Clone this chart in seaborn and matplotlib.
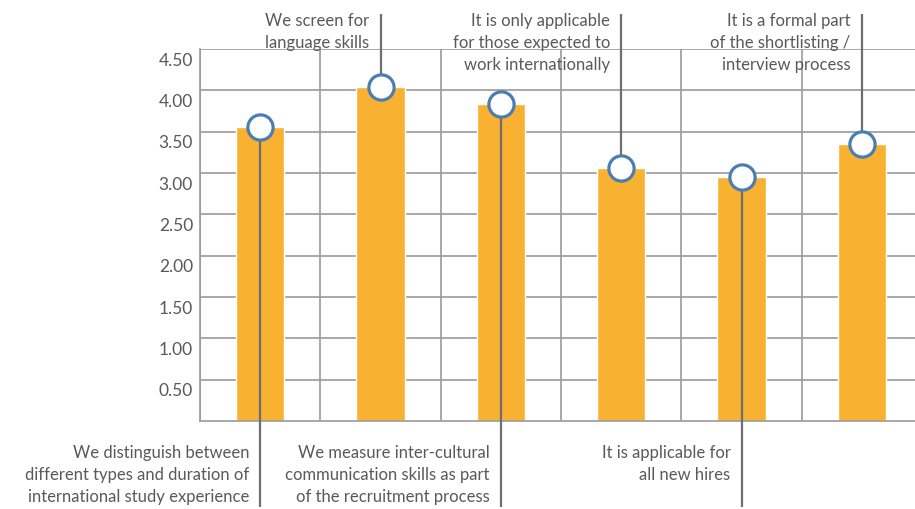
import matplotlib
matplotlib.use("Agg")
import matplotlib.pyplot as plt
import matplotlib.transforms as mtransforms
import numpy as np
import pandas as pd
import seaborn as sns

# Average agreement score per recruitment practice
statements = [
    "We distinguish between\ndifferent types and duration of\ninternational study experience",
    "We screen for\nlanguage skills",
    "We measure inter-cultural\ncommunication skills as part\nof the recruitment process",
    "It is only applicable\nfor those expected to\nwork internationally",
    "It is applicable for\nall new hires",
    "It is a formal part\nof the shortlisting /\ninterview process",
]
scores = [3.56, 4.04, 3.83, 3.06, 2.95, 3.35]
label_side = ["below", "above", "below", "above", "below", "above"]
y_ticks = [0.5, 1.0, 1.5, 2.0, 2.5, 3.0, 3.5, 4.0, 4.5]

BAR = "#F9B132"
RING = "#4A7EB2"
TEXT = "#595959"
GRID = "#9a9a9a"
LEADER = "#6e6e6e"

sns.set_theme(style="white")
plt.rcParams["font.family"] = ["Lato", "DejaVu Sans"]

df = pd.DataFrame({"statement": statements, "score": scores})

W, H, DPI = 915, 510, 100
fig = plt.figure(figsize=(W / DPI, H / DPI), dpi=DPI)
x0, x1, y_top, y_bot = 200, 922, 50, 422
ax = fig.add_axes([x0 / W, (H - y_bot) / H, (x1 - x0) / W, (y_bot - y_top) / H])

sns.barplot(data=df, x="statement", y="score", color=BAR, width=0.4,
            saturation=1, ax=ax, zorder=2)

n = len(statements)
ax.set_xlim(-0.5, n - 0.5)
ax.set_ylim(0, 4.5)
ax.set_xlabel("")
ax.set_ylabel("")
ax.set_xticks([])

# grid: horizontal at each tick, vertical at slot boundaries
for y in y_ticks:
    ax.axhline(y, color=GRID, lw=1.2, zorder=1)
for b in np.arange(n + 1) - 0.5:
    ax.axvline(b, color=GRID, lw=1.2, zorder=1)
for side in ["top", "right"]:
    ax.spines[side].set_visible(False)
ax.spines["left"].set_color(GRID)
ax.spines["bottom"].set_color(GRID)
ax.spines["left"].set_linewidth(1.2)
ax.spines["bottom"].set_linewidth(1.2)

ax.set_yticks(y_ticks)
ax.set_yticklabels([f"{v:.2f}" for v in y_ticks])
ax.tick_params(axis="y", length=0, pad=5, labelsize=12.5, labelcolor=TEXT)
shift = mtransforms.ScaledTranslation(0, -9 / DPI, fig.dpi_scale_trans)
for lab in ax.get_yticklabels():
    lab.set_transform(lab.get_transform() + shift)

# leader lines, rings and callout text
px_per_unit = (y_bot - y_top) / 4.5
top_end = 4.5 + (y_top - 15) / px_per_unit
bot_end = -(508 - y_bot) / px_per_unit
top_anchor = 1 + (y_top - 13) / (y_bot - y_top)
bot_anchor = -(445 - y_bot) / (y_bot - y_top)

for i, (txt, v, side) in enumerate(zip(statements, scores, label_side)):
    end = top_end if side == "above" else bot_end
    ax.plot([i, i], [v, end], color=LEADER, lw=1.6, zorder=3, clip_on=False,
            solid_capstyle="butt")
    ax.annotate(txt, xy=(i, top_anchor if side == "above" else bot_anchor),
                xycoords=("data", "axes fraction"),
                xytext=(-8, 0), textcoords="offset points",
                ha="right", va="top", fontsize=12, color=TEXT,
                linespacing=1.47, annotation_clip=False)

ax.scatter(range(n), scores, s=330, facecolor="white", edgecolor=RING,
           linewidth=2.3, zorder=5, clip_on=False)

fig.savefig("out.png", dpi=DPI)
